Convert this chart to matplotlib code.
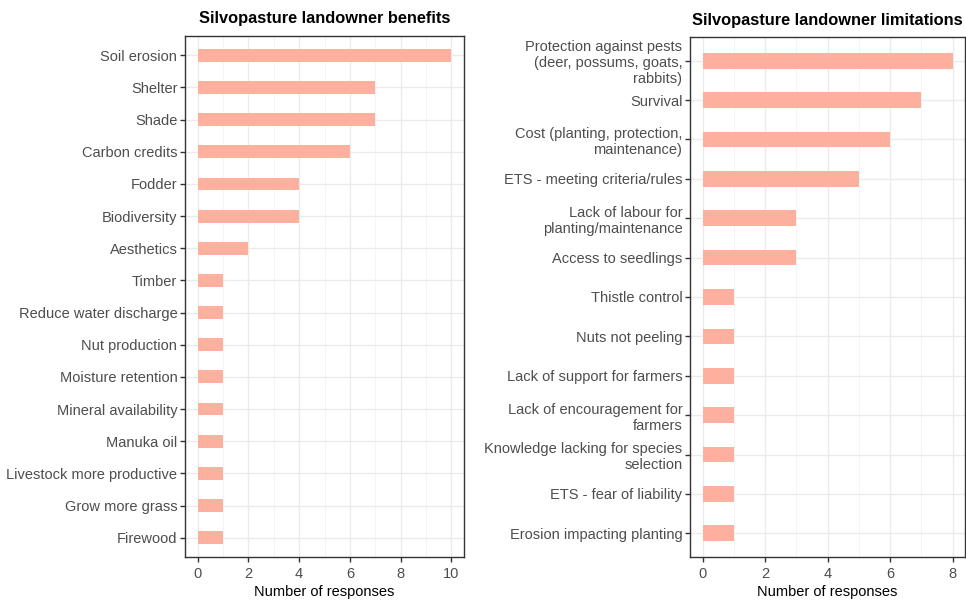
import matplotlib
matplotlib.use("Agg")
import matplotlib.pyplot as plt
from matplotlib.ticker import MultipleLocator

plt.rcParams['font.family'] = ['Liberation Sans', 'DejaVu Sans']

benefit_labels = ["Soil erosion", "Shelter", "Shade", "Carbon credits", "Fodder",
                  "Biodiversity", "Aesthetics", "Timber", "Reduce water discharge",
                  "Nut production", "Moisture retention", "Mineral availability",
                  "Manuka oil", "Livestock more productive", "Grow more grass", "Firewood"]
benefit_values = [10, 7, 7, 6, 4, 4, 2, 1, 1, 1, 1, 1, 1, 1, 1, 1]

limit_labels = ["Protection against pests\n(deer, possums, goats,\nrabbits)", "Survival",
                "Cost (planting, protection,\nmaintenance)", "ETS - meeting criteria/rules",
                "Lack of labour for\nplanting/maintenance", "Access to seedlings",
                "Thistle control", "Nuts not peeling", "Lack of support for farmers",
                "Lack of encouragement for\nfarmers", "Knowledge lacking for species\nselection",
                "ETS - fear of liability", "Erosion impacting planting"]
limit_values = [8, 7, 6, 5, 3, 3, 1, 1, 1, 1, 1, 1, 1]

bar_color = "#FDB09E"
W, H = 966, 600
fig = plt.figure(figsize=(W / 100, H / 100), dpi=100)

def make_panel(rect, labels, values, xmax, title):
    ax = fig.add_axes(rect)
    n = len(labels)
    ys = list(range(n))[::-1]
    ax.barh(ys, values, height=0.4, color=bar_color, zorder=3)
    ax.set_yticks(ys)
    ax.set_yticklabels(labels, ma='right')
    ax.set_ylim(-0.6, n - 1 + 0.6)
    ax.set_xlim(-0.05 * xmax, xmax * 1.05)
    ax.xaxis.set_major_locator(MultipleLocator(2))
    ax.xaxis.set_minor_locator(MultipleLocator(1))
    ax.grid(which='major', color='#EBEBEB', linewidth=1.0, zorder=0)
    ax.grid(which='minor', axis='x', color='#F2F2F2', linewidth=0.6, zorder=0)
    ax.tick_params(which='minor', length=0)
    ax.tick_params(which='major', length=3.5, width=1.0, color='#333333',
                   labelsize=10.5, labelcolor='#4D4D4D', pad=2)
    ax.tick_params(axis='x', which='major', pad=3.5)
    for s in ax.spines.values():
        s.set_color('#333333')
        s.set_linewidth(1.0)
    ax.set_xlabel("Number of responses", fontsize=10.5, color='black', labelpad=3)
    ax.set_title(title, fontsize=11.8, fontweight='bold', color='black', pad=9)
    return ax

def rect(l, r, t, b):
    return [l / W, 1 - b / H, (r - l) / W, (b - t) / H]

make_panel(rect(185, 464, 36, 557), benefit_labels, benefit_values, 10,
           "Silvopasture landowner benefits")
make_panel(rect(690, 965, 37, 557), limit_labels, limit_values, 8,
           "Silvopasture landowner limitations")

fig.savefig("out.png", dpi=100)
